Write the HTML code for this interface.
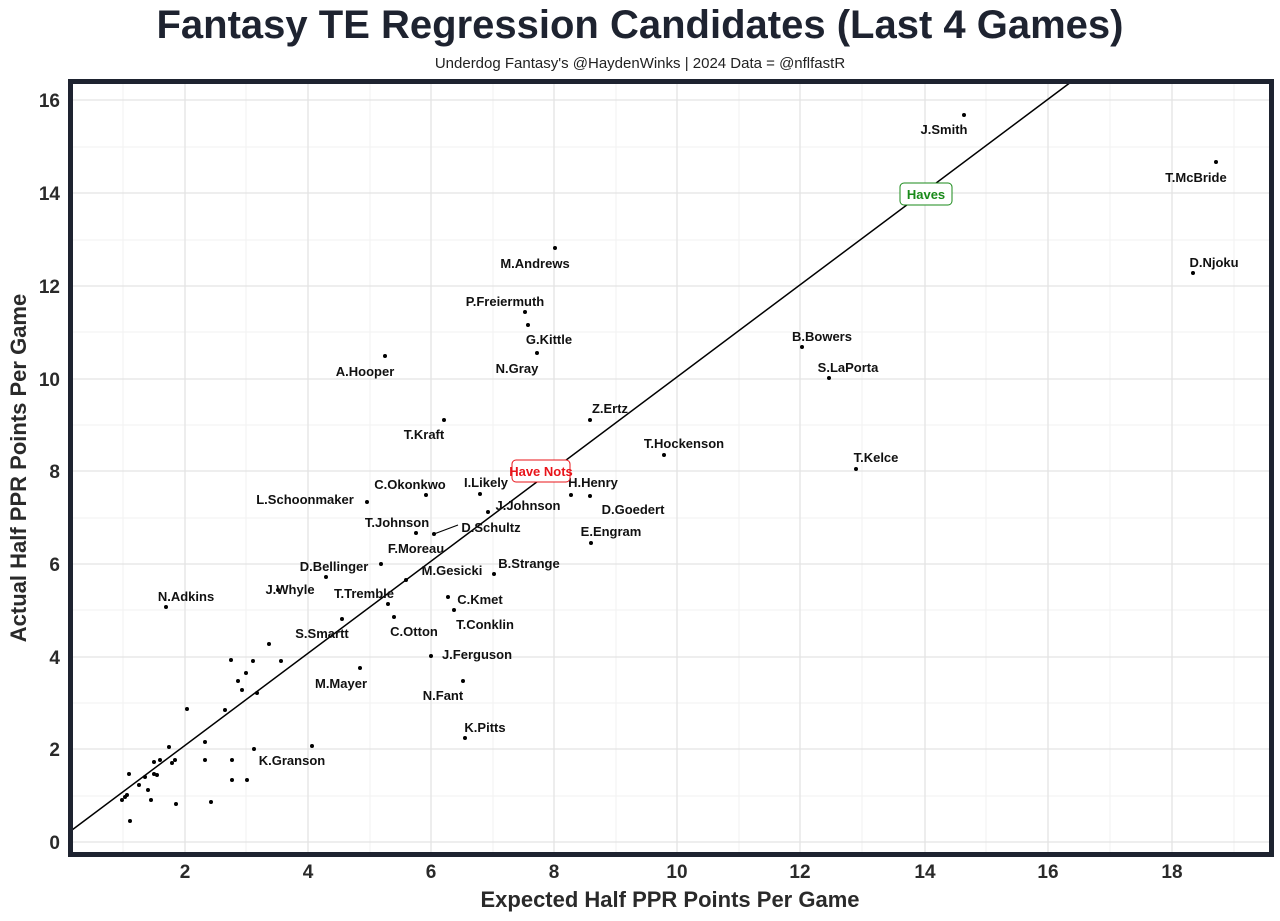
<!DOCTYPE html>
<html><head><meta charset="utf-8"><style>
body{margin:0;background:#fff;}
svg{display:block;font-family:"Liberation Sans",sans-serif;}
.lb{font-size:13px;font-weight:bold;fill:#111;text-anchor:middle;}
.tk{font-size:19px;font-weight:bold;fill:#2a2a2a;}
</style></head><body>
<svg width="1280" height="921" viewBox="0 0 1280 921">
<rect width="1280" height="921" fill="#fff"/>
<text x="640" y="38" text-anchor="middle" font-size="40" font-weight="bold" fill="#1e2330">Fantasy TE Regression Candidates (Last 4 Games)</text>
<text x="640" y="68" text-anchor="middle" font-size="15" fill="#222">Underdog Fantasy's @HaydenWinks | 2024 Data = @nflfastR</text>
<g stroke="#f2f2f2" stroke-width="1">
<line x1="123" y1="84" x2="123" y2="853"/><line x1="246" y1="84" x2="246" y2="853"/><line x1="370" y1="84" x2="370" y2="853"/><line x1="493" y1="84" x2="493" y2="853"/><line x1="616" y1="84" x2="616" y2="853"/><line x1="739" y1="84" x2="739" y2="853"/><line x1="862" y1="84" x2="862" y2="853"/><line x1="986" y1="84" x2="986" y2="853"/><line x1="1110" y1="84" x2="1110" y2="853"/><line x1="1234" y1="84" x2="1234" y2="853"/>
<line x1="72" y1="147" x2="1270" y2="147"/><line x1="72" y1="240" x2="1270" y2="240"/><line x1="72" y1="332" x2="1270" y2="332"/><line x1="72" y1="425" x2="1270" y2="425"/><line x1="72" y1="518" x2="1270" y2="518"/><line x1="72" y1="610" x2="1270" y2="610"/><line x1="72" y1="703" x2="1270" y2="703"/><line x1="72" y1="796" x2="1270" y2="796"/>
</g>
<g stroke="#e3e3e3" stroke-width="1.3">
<line x1="185" y1="84" x2="185" y2="853"/><line x1="308" y1="84" x2="308" y2="853"/><line x1="431" y1="84" x2="431" y2="853"/><line x1="554" y1="84" x2="554" y2="853"/><line x1="677" y1="84" x2="677" y2="853"/><line x1="800" y1="84" x2="800" y2="853"/><line x1="925" y1="84" x2="925" y2="853"/><line x1="1048" y1="84" x2="1048" y2="853"/><line x1="1172" y1="84" x2="1172" y2="853"/>
<line x1="72" y1="100" x2="1270" y2="100"/><line x1="72" y1="193" x2="1270" y2="193"/><line x1="72" y1="286" x2="1270" y2="286"/><line x1="72" y1="379" x2="1270" y2="379"/><line x1="72" y1="471" x2="1270" y2="471"/><line x1="72" y1="564" x2="1270" y2="564"/><line x1="72" y1="657" x2="1270" y2="657"/><line x1="72" y1="749" x2="1270" y2="749"/><line x1="72" y1="842" x2="1270" y2="842"/>
</g>
<line x1="72" y1="830" x2="1071" y2="82" stroke="#000" stroke-width="1.5"/>
<rect x="70.5" y="81.5" width="1201" height="773" fill="none" stroke="#1e2330" stroke-width="5"/>
<g class="tk" text-anchor="end">
<text x="60" y="107">16</text><text x="60" y="200">14</text><text x="60" y="293">12</text><text x="60" y="386">10</text><text x="60" y="478">8</text><text x="60" y="571">6</text><text x="60" y="664">4</text><text x="60" y="756">2</text><text x="60" y="849">0</text>
</g>
<g class="tk" text-anchor="middle">
<text x="185" y="878">2</text><text x="308" y="878">4</text><text x="431" y="878">6</text><text x="554" y="878">8</text><text x="677" y="878">10</text><text x="800" y="878">12</text><text x="925" y="878">14</text><text x="1048" y="878">16</text><text x="1172" y="878">18</text>
</g>
<text x="670" y="907" text-anchor="middle" font-size="22" font-weight="bold" fill="#2a2a2a">Expected Half PPR Points Per Game</text>
<text transform="translate(26,468) rotate(-90)" text-anchor="middle" font-size="22" font-weight="bold" fill="#2a2a2a">Actual Half PPR Points Per Game</text>
<g fill="#000">
<circle cx="964" cy="115" r="2"/><circle cx="1216" cy="162" r="2"/><circle cx="1193" cy="273" r="2"/><circle cx="555" cy="248" r="2"/><circle cx="525" cy="312" r="2"/><circle cx="528" cy="325" r="2"/><circle cx="537" cy="353" r="2"/><circle cx="385" cy="356" r="2"/><circle cx="802" cy="347" r="2"/><circle cx="829" cy="378" r="2"/><circle cx="590" cy="420" r="2"/><circle cx="444" cy="420" r="2"/><circle cx="664" cy="455" r="2"/><circle cx="856" cy="469" r="2"/><circle cx="571" cy="495" r="2"/><circle cx="590" cy="496" r="2"/><circle cx="480" cy="494" r="2"/><circle cx="426" cy="495" r="2"/><circle cx="367" cy="502" r="2"/><circle cx="488" cy="512" r="2"/><circle cx="416" cy="533" r="2"/><circle cx="434" cy="534" r="2"/><circle cx="591" cy="543" r="2"/><circle cx="381" cy="564" r="2"/><circle cx="326" cy="577" r="2"/><circle cx="406" cy="580" r="2"/><circle cx="494" cy="574" r="2"/><circle cx="278" cy="590" r="2"/><circle cx="166" cy="607" r="2"/><circle cx="342" cy="619" r="2"/><circle cx="448" cy="597" r="2"/><circle cx="388" cy="604" r="2"/><circle cx="394" cy="617" r="2"/><circle cx="454" cy="610" r="2"/><circle cx="431" cy="656" r="2"/><circle cx="360" cy="668" r="2"/><circle cx="463" cy="681" r="2"/><circle cx="465" cy="738" r="2"/><circle cx="312" cy="746" r="2"/>
<circle cx="231" cy="660" r="2"/><circle cx="238" cy="681" r="2"/><circle cx="242" cy="690" r="2"/><circle cx="246" cy="673" r="2"/><circle cx="253" cy="661" r="2"/><circle cx="257" cy="693" r="2"/><circle cx="269" cy="644" r="2"/><circle cx="281" cy="661" r="2"/><circle cx="225" cy="710" r="2"/><circle cx="187" cy="709" r="2"/><circle cx="205" cy="742" r="2"/><circle cx="205" cy="760" r="2"/><circle cx="169" cy="747" r="2"/><circle cx="175" cy="760" r="2"/><circle cx="172" cy="763" r="2"/><circle cx="160" cy="760" r="2"/><circle cx="157" cy="775" r="2"/><circle cx="154" cy="762" r="2"/><circle cx="145" cy="777" r="2"/><circle cx="148" cy="790" r="2"/><circle cx="129" cy="774" r="2"/><circle cx="139" cy="785" r="2"/><circle cx="125" cy="797" r="2"/><circle cx="122" cy="800" r="2"/><circle cx="127" cy="795" r="2"/><circle cx="130" cy="821" r="2"/><circle cx="151" cy="800" r="2"/><circle cx="176" cy="804" r="2"/><circle cx="211" cy="802" r="2"/><circle cx="232" cy="780" r="2"/><circle cx="247" cy="780" r="2"/><circle cx="254" cy="749" r="2"/><circle cx="232" cy="760" r="2"/><circle cx="154" cy="774" r="2"/>
</g>
<line x1="434" y1="534" x2="458" y2="525" stroke="#000" stroke-width="1.2"/>
<g class="lb">
<text x="944" y="134">J.Smith</text><text x="1196" y="182">T.McBride</text><text x="1214" y="267">D.Njoku</text><text x="535" y="268">M.Andrews</text><text x="505" y="306">P.Freiermuth</text><text x="549" y="344">G.Kittle</text><text x="517" y="373">N.Gray</text><text x="365" y="376">A.Hooper</text><text x="822" y="341">B.Bowers</text><text x="848" y="372">S.LaPorta</text><text x="610" y="413">Z.Ertz</text><text x="424" y="439">T.Kraft</text><text x="684" y="448">T.Hockenson</text><text x="876" y="462">T.Kelce</text><text x="593" y="487">H.Henry</text><text x="633" y="514">D.Goedert</text><text x="486" y="487">I.Likely</text><text x="410" y="489">C.Okonkwo</text><text x="305" y="504">L.Schoonmaker</text><text x="528" y="510">J.Johnson</text><text x="397" y="527">T.Johnson</text><text x="491" y="532">D.Schultz</text><text x="611" y="536">E.Engram</text><text x="416" y="553">F.Moreau</text><text x="334" y="571">D.Bellinger</text><text x="452" y="575">M.Gesicki</text><text x="529" y="568">B.Strange</text><text x="290" y="594">J.Whyle</text><text x="186" y="601">N.Adkins</text><text x="364" y="598">T.Tremble</text><text x="480" y="604">C.Kmet</text><text x="322" y="638">S.Smartt</text><text x="414" y="636">C.Otton</text><text x="485" y="629">T.Conklin</text><text x="477" y="659">J.Ferguson</text><text x="341" y="688">M.Mayer</text><text x="443" y="700">N.Fant</text><text x="485" y="732">K.Pitts</text><text x="292" y="765">K.Granson</text>
</g>
<rect x="900" y="183" width="52" height="22" rx="4" fill="#fff" stroke="#1a8a1a" stroke-width="1"/>
<text x="926" y="199" text-anchor="middle" font-size="13" font-weight="bold" fill="#1a8a1a">Haves</text>
<rect x="512" y="460" width="58" height="22" rx="4" fill="#fff" stroke="#e8141a" stroke-width="1"/>
<text x="541" y="476" text-anchor="middle" font-size="13" font-weight="bold" fill="#e8141a">Have Nots</text>
</svg>
</body></html>
